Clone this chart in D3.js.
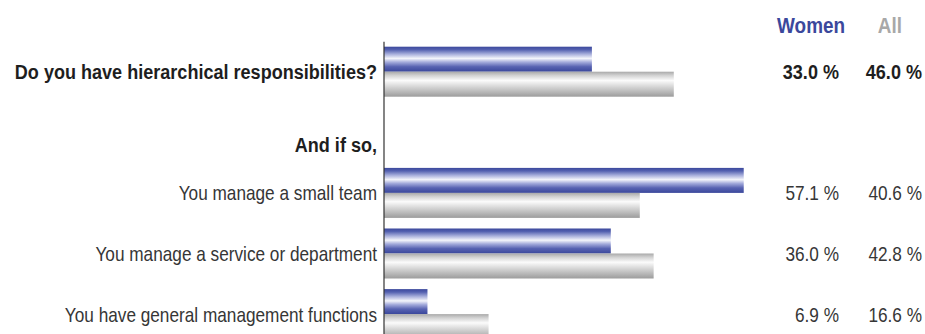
<!DOCTYPE html>
<html>
<head>
<meta charset="utf-8">
<script src="https://cdn.jsdelivr.net/npm/d3@7"></script>
<style>
  html, body { margin: 0; padding: 0; background: #fff; }
  svg { display: block; }
  text { font-family: "Liberation Sans", Arial, sans-serif; }
</style>
</head>
<body>
<svg id="chart" width="925" height="334"></svg>
<script>
// Rows of the survey, top to bottom
const rows = [
  "Do you have hierarchical responsibilities?",
  "And if so,",
  "You manage a small team",
  "You manage a service or department",
  "You have general management functions"
];
// Rows drawn in bold (question and its follow-up heading)
const boldRows = ["Do you have hierarchical responsibilities?", "And if so,"];
// Share of respondents, in percent (null = heading row without bars)
const women = [33.0, null, 57.1, 36.0, 6.9];
const all   = [46.0, null, 40.6, 42.8, 16.6];
const seriesNames = ["Women", "All"];

const svg = d3.select("#chart");
const W = 925, H = 334;

// Narrow type: regular and bold faces are squeezed horizontally
const SX_REG = 0.82, SX_BOLD = 0.86;

const x = d3.scaleLinear().domain([0, 100]).range([384, 1014]);
const rowStep = 60.6, rowPad = 0.175, plotTop = 46.7;
const y = d3.scaleBand().domain(rows)
  .range([plotTop, plotTop + rowStep * (rows.length - rowPad)])
  .paddingInner(rowPad).paddingOuter(0);
const half = y.bandwidth() / 2;

// Bar gradients: glossy blue for women, silver for all
const defs = svg.append("defs");
const blue = defs.append("linearGradient").attr("id", "gBlue").attr("x1", 0).attr("y1", 0).attr("x2", 0).attr("y2", 1);
[[0, "#3b489c"], [0.12, "#5461b0"], [0.3, "#a9b0dc"], [0.47, "#f4f5fb"], [0.62, "#a3aadb"], [0.8, "#5863b2"], [1, "#3a479b"]]
  .forEach(([o, c]) => blue.append("stop").attr("offset", o).attr("stop-color", c));
const grey = defs.append("linearGradient").attr("id", "gGrey").attr("x1", 0).attr("y1", 0).attr("x2", 0).attr("y2", 1);
[[0, "#a9a9a9"], [0.15, "#d2d2d2"], [0.35, "#fbfbfb"], [0.6, "#d6d6d6"], [1, "#9c9c9c"]]
  .forEach(([o, c]) => grey.append("stop").attr("offset", o).attr("stop-color", c));

const data = rows.map((r, i) => ({ row: r, women: women[i], all: all[i], bold: boldRows.includes(r) }));
const barRows = data.filter(d => d.women !== null);

// Bars
const g = svg.append("g");
g.selectAll("rect.women").data(barRows).join("rect")
  .attr("class", "women")
  .attr("x", x(0)).attr("y", d => y(d.row))
  .attr("width", d => x(d.women) - x(0)).attr("height", half)
  .attr("fill", "url(#gBlue)");
g.selectAll("rect.all").data(barRows).join("rect")
  .attr("class", "all")
  .attr("x", x(0)).attr("y", d => y(d.row) + half)
  .attr("width", d => x(d.all) - x(0)).attr("height", half)
  .attr("fill", "url(#gGrey)");

// Category axis line
svg.append("line")
  .attr("x1", 384).attr("x2", 384)
  .attr("y1", 41.7).attr("y2", H)
  .attr("stroke", "#333").attr("stroke-width", 1.2);

// Places a narrow, right-aligned text at (xr, yc) with its centre line on yc
function narrowText(sel, xr, yc, bold) {
  sel.attr("transform", (d, i) => `translate(${xr(d, i)},${yc(d, i)}) scale(${bold(d) ? SX_BOLD : SX_REG},1)`)
    .attr("dy", "0.36em")
    .attr("text-anchor", "end")
    .attr("font-size", 21)
    .attr("font-weight", d => bold(d) ? "bold" : "normal");
}

// Row labels, right-aligned against the axis
svg.append("g").selectAll("text").data(data).join("text")
  .call(narrowText, () => 377, d => y(d.row) + half + (d.women === null ? 12 : 0), d => d.bold)
  .attr("fill", d => d.bold ? "#1e1e1e" : "#363636")
  .text(d => d.row);

// Value columns
const fmt = v => v.toFixed(1) + " %";
const cols = [{ key: "women", xr: 839 }, { key: "all", xr: 922 }];
cols.forEach(c => {
  svg.append("g").selectAll("text").data(barRows).join("text")
    .call(narrowText, () => c.xr, d => y(d.row) + half, d => d.bold)
    .attr("fill", d => d.bold ? "#1e1e1e" : "#363636")
    .text(d => fmt(d[c.key]));
});

// Column headers
const headers = [
  { name: seriesNames[0], xr: 845, color: "#3b489c" },
  { name: seriesNames[1], xr: 902, color: "#a8a8a8" }
];
svg.append("g").selectAll("text").data(headers).join("text")
  .attr("transform", d => `translate(${d.xr},33) scale(${SX_BOLD},1)`)
  .attr("text-anchor", "end")
  .attr("font-size", 22)
  .attr("font-weight", "bold")
  .attr("fill", d => d.color)
  .text(d => d.name);
</script>
</body>
</html>
